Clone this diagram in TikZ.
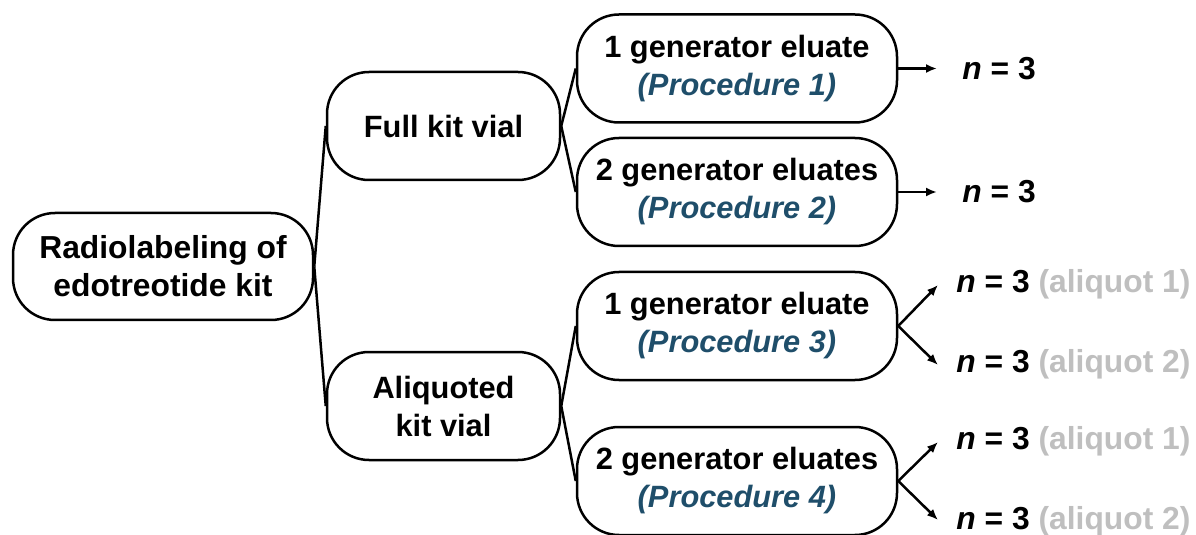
\documentclass[tikz,border=0pt]{standalone}
\usepackage{fontspec}
\setmainfont{Liberation Sans}
\usetikzlibrary{arrows.meta}
\definecolor{procblue}{RGB}{31,78,106}
\definecolor{aligray}{RGB}{191,191,191}
\tikzset{
  box/.style={draw, line width=1.25pt, rounded corners=21pt, align=center,
    font=\fontsize{15.4pt}{19pt}\selectfont\bfseries, inner sep=0pt},
  rootbox/.style={box, font=\fontsize{15.9pt}{19pt}\selectfont\bfseries, minimum width=150pt, minimum height=53.5pt},
  midbox/.style={box, minimum width=116.5pt, minimum height=54pt},
  leafbox/.style={box, minimum width=160pt, minimum height=54pt},
  link/.style={line width=1.25pt},
  arr/.style={line width=1.25pt, -{Latex[length=5.5pt,width=4.5pt]}},
  res/.style={anchor=west, inner sep=0pt, font=\fontsize{15.9pt}{19pt}\selectfont\bfseries}
}
\newcommand{\nthree}{\textit{n} = 3}
\begin{document}
\begin{tikzpicture}[x=0.5pt,y=-0.5pt]
\useasboundingbox (0,0) rectangle (1196,535);
\node[rootbox] (root) at (163,266.5) {Radiolabeling of\\edotreotide kit};
\node[midbox] (full) at (443.5,126) {Full kit vial};
\node[midbox] (ali) at (443.5,406) {Aliquoted\\kit vial};
\node[leafbox] (p1) at (737,68.5) {1 generator eluate\\{\itshape\color{procblue}(Procedure 1)}};
\node[leafbox] (p2) at (737,192) {2 generator eluates\\{\itshape\color{procblue}(Procedure 2)}};
\node[leafbox] (p3) at (737,326) {1 generator eluate\\{\itshape\color{procblue}(Procedure 3)}};
\node[leafbox] (p4) at (737,481) {2 generator eluates\\{\itshape\color{procblue}(Procedure 4)}};

\draw[link] (root.east) -- (full.west);
\draw[link] (root.east) -- (ali.west);
\draw[link] (full.east) -- (p1.west);
\draw[link] (full.east) -- (p2.west);
\draw[link] (ali.east) -- (p3.west);
\draw[link] (ali.east) -- (p4.west);

\coordinate (e1) at (937,68.5);
\coordinate (e2) at (937,192);
\coordinate (e3a) at (938,285);
\coordinate (e3b) at (938,365);
\coordinate (e4a) at (938,442);
\coordinate (e4b) at (938,520);

\draw[arr] (p1.east) -- (e1);
\draw[arr] (p2.east) -- (e2);
\draw[arr] (p3.east) -- (e3a);
\draw[arr] (p3.east) -- (e3b);
\draw[arr] (p4.east) -- (e4a);
\draw[arr] (p4.east) -- (e4b);

\node[res] (r1) at (962,68.5) {\nthree};
\node[res] (r2) at (962,192) {\nthree};
\node[res] (r3a) at (956,284) {\nthree{} {\color{aligray}(aliquot 1)}};
\node[res] (r3b) at (956,364) {\nthree{} {\color{aligray}(aliquot 2)}};
\node[res] (r4a) at (956,441) {\nthree{} {\color{aligray}(aliquot 1)}};
\node[res] (r4b) at (956,521) {\nthree{} {\color{aligray}(aliquot 2)}};
\end{tikzpicture}
\end{document}
